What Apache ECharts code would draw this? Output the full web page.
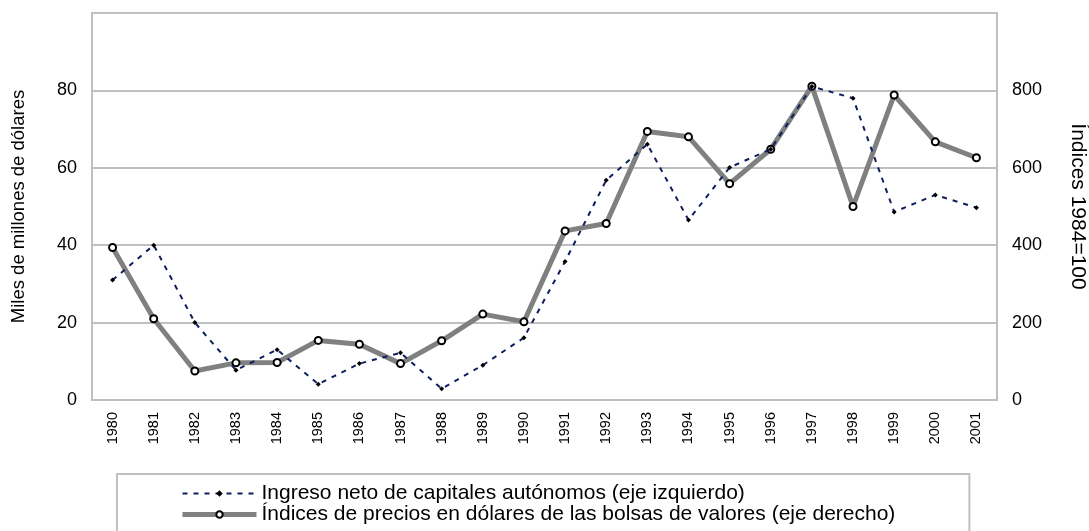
<!DOCTYPE html>
<html>
<head>
<meta charset="utf-8">
<script src="https://cdn.jsdelivr.net/npm/echarts@6/dist/echarts.min.js"></script>
<style>
  html, body { margin: 0; padding: 0; background: #fff; }
  #chart { width: 1089px; height: 531px; }
</style>
</head>
<body>
<div id="chart"></div>
<script>
// años
const years = ['1980','1981','1982','1983','1984','1985','1986','1987','1988','1989','1990',
  '1991','1992','1993','1994','1995','1996','1997','1998','1999','2000','2001']
// ingreso neto de capitales autónomos (miles de millones de dólares, eje izquierdo)
const ingresoNeto = [31, 40, 20, 7.7, 13, 4.1, 9.4, 12.2, 2.9, 9, 16.1,
  35.8, 56.8, 66.1, 46.5, 60.1, 64.8, 81, 78, 48.6, 53, 49.7]
// índices de precios de las bolsas (1984=100, eje derecho)
const indiceBolsas = [394, 210, 75, 96, 97, 154, 144, 94, 153, 222, 202,
  437, 456, 694, 680, 559, 648, 811, 500, 788, 667, 626]

const nombreIngreso = 'Ingreso neto de capitales autónomos (eje izquierdo)'
const nombreIndice = 'Índices de precios en dólares de las bolsas de valores (eje derecho)'

const font = "'Liberation Sans', Arial, sans-serif"
const gris = '#c0c0c0'
const navy = '#0d1f5c'

const chart = echarts.init(document.getElementById('chart'), null, { renderer: 'canvas' })

const options = {
  animation: false,
  backgroundColor: '#fff',
  textStyle: { fontFamily: font, color: '#000' },
  grid: {
    left: 92,
    right: 92,
    top: 13,
    bottom: 131,
    show: true,
    borderColor: gris,
    borderWidth: 2,
    containLabel: false,
    outerBoundsMode: 'none'
  },
  legend: {
    orient: 'vertical',
    left: 117,
    top: 474,
    height: 120,
    padding: [9, 74, 30, 63],
    itemWidth: 74,
    itemHeight: 8,
    itemGap: 0,
    borderColor: gris,
    borderWidth: 2,
    textStyle: { fontFamily: font, fontSize: 21, color: '#000' },
    data: [{
      name: nombreIngreso,
      lineStyle: { color: navy, width: 2, type: [5, 6] },
      itemStyle: { color: '#000', borderWidth: 0 }
    }, {
      name: nombreIndice,
      lineStyle: { color: '#808080', width: 5, type: 'solid' },
      itemStyle: { color: '#fff', borderColor: '#000', borderWidth: 2 }
    }]
  },
  xAxis: {
    type: 'category',
    data: years,
    boundaryGap: true,
    axisLine: { lineStyle: { color: gris, width: 2 } },
    axisTick: { inside: true, length: 5, lineStyle: { color: gris, width: 1 } },
    axisLabel: {
      rotate: 90,
      margin: 12,
      fontSize: 14.5,
      fontFamily: font,
      color: '#000'
    },
    splitLine: { show: false }
  },
  yAxis: [{
    type: 'value',
    min: 0,
    max: 100,
    interval: 20,
    name: 'Miles de millones de dólares',
    nameLocation: 'middle',
    nameGap: 64,
    nameTextStyle: { fontFamily: font, fontSize: 18.5, color: '#000' },
    axisLine: { show: true, lineStyle: { color: gris, width: 2 } },
    axisTick: { show: false },
    axisLabel: {
      margin: 15,
      fontSize: 18,
      fontFamily: font,
      color: '#000',
      showMaxLabel: false
    },
    splitLine: { lineStyle: { color: gris, width: 2 } }
  }, {
    type: 'value',
    min: 0,
    max: 1000,
    interval: 200,
    position: 'right',
    name: 'Índices 1984=100',
    nameLocation: 'middle',
    nameGap: 70,
    nameRotate: -90,
    nameTextStyle: { fontFamily: font, fontSize: 21, color: '#000' },
    axisLine: { show: true, lineStyle: { color: gris, width: 2 } },
    axisTick: { show: false },
    axisLabel: {
      margin: 15,
      fontSize: 18,
      fontFamily: font,
      color: '#000',
      showMaxLabel: false
    },
    splitLine: { show: false }
  }],
  series: [{
    name: nombreIndice,
    type: 'line',
    yAxisIndex: 1,
    data: indiceBolsas,
    z: 2,
    symbol: 'circle',
    symbolSize: 7,
    showSymbol: true,
    lineStyle: { color: '#808080', width: 5 },
    itemStyle: { color: '#fff', borderColor: '#000', borderWidth: 2 }
  }, {
    name: nombreIngreso,
    type: 'line',
    yAxisIndex: 0,
    data: ingresoNeto,
    z: 3,
    symbol: 'diamond',
    symbolSize: 5,
    showSymbol: true,
    lineStyle: { color: navy, width: 2, type: [5, 6] },
    itemStyle: { color: '#000', borderWidth: 0 }
  }]
}

chart.setOption(options, true)
</script>
</body>
</html>
